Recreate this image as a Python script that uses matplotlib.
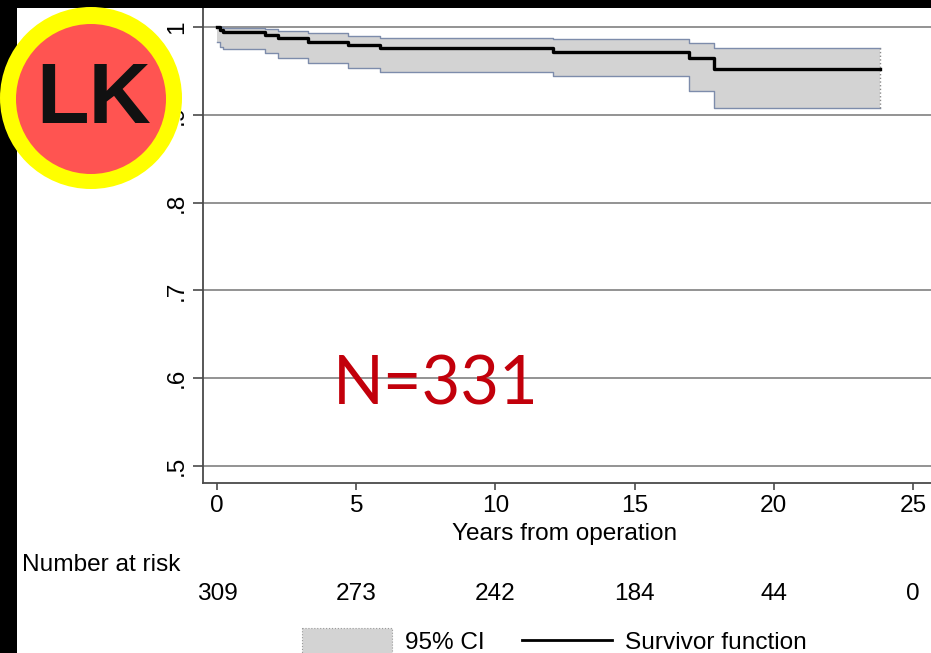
import matplotlib
matplotlib.use("Agg")
import matplotlib.pyplot as plt
from matplotlib.patches import Circle, Rectangle
from matplotlib.lines import Line2D
import matplotlib.transforms as mtransforms

# ---------------- data ----------------
times = [0, 0.1, 0.2, 1.72, 2.2, 3.28, 4.72, 5.86, 12.07, 16.97, 17.86, 23.8]
surv = [1.0, 0.997, 0.9946, 0.9909, 0.9871, 0.9833, 0.9795, 0.9757, 0.9712, 0.9644, 0.9522, 0.9522]
upper = [1.0, 1.0, 0.999, 0.998, 0.9958, 0.9928, 0.990, 0.9878, 0.986, 0.9814, 0.9757, 0.9757]
lower = [0.983, 0.977, 0.9746, 0.9707, 0.965, 0.9593, 0.9536, 0.949, 0.9442, 0.927, 0.9074, 0.9074]

x_ticks = [0, 5, 10, 15, 20, 25]
y_ticks = [0.5, 0.6, 0.7, 0.8, 0.9, 1.0]
y_tick_labels = [".5", ".6", ".7", ".8", ".9", "1"]
risk_times = [0, 5, 10, 15, 20, 25]
at_risk = [309, 273, 242, 184, 44, 0]

xlabel = "Years from operation"
risk_title = "Number at risk"
legend_ci = "95% CI"
legend_sf = "Survivor function"
annotation = "N=331"
logo_text = "LK"

# ---------------- figure ----------------
W, H = 931, 653
FS = 17.6
plt.rcParams['font.family'] = ['Liberation Sans', 'DejaVu Sans']
fig = plt.figure(figsize=(W / 100, H / 100), dpi=100)
fig.patch.set_facecolor('white')

ax_left, ax_bottom_px, ax_top_px = 203, 483, 0
ax = fig.add_axes([ax_left / W, (H - ax_bottom_px) / H, (W - ax_left) / W, (ax_bottom_px - ax_top_px) / H])
ax.set_xlim(-0.503, 25.65)
ax.set_ylim(0.4806, 1.0308)
ax.set_facecolor('white')

for y in y_ticks:
    ax.axhline(y, color='#939393', lw=1.4, zorder=1)

ax.fill_between(times, lower, upper, step='post', color='#d3d3d3', lw=0, zorder=2)
ax.step(times, upper, where='post', color='#7d8cab', lw=1.0, zorder=3)
ax.step(times, lower, where='post', color='#7d8cab', lw=1.0, zorder=3)
ax.vlines(times[-1], lower[-1], upper[-1], colors='#8a8a8a', linestyles=':', lw=1.0, zorder=3)
ax.step(times, surv, where='post', color='black', lw=2.4, zorder=4)

for s in ['top', 'right']:
    ax.spines[s].set_visible(False)
for s in ['left', 'bottom']:
    ax.spines[s].set_color('#4a4a4a')
    ax.spines[s].set_linewidth(1.3)

ax.set_xticks(x_ticks)
ax.set_xticklabels([str(v) for v in x_ticks])
ax.set_yticks(y_ticks)
ax.set_yticklabels(y_tick_labels)
ax.tick_params(axis='x', length=5, width=1.2, color='#4a4a4a', pad=4, labelsize=FS)
ax.tick_params(axis='y', length=7, width=1.2, color='#4a4a4a', pad=4, labelsize=FS, labelrotation=90)
for lab in ax.get_yticklabels():
    lab.set_va('center')

def fy(py):
    return 1 - py / H

fig.text(565 / W, fy(534), xlabel, ha='center', va='center', fontsize=FS)
fig.text(22 / W, fy(565), risk_title, ha='left', va='center', fontsize=FS)
blend = mtransforms.blended_transform_factory(ax.transData, fig.transFigure)
for t, n in zip(risk_times, at_risk):
    fig.text(t, fy(594), str(n), transform=blend, ha='center', va='center', fontsize=FS)

fig.text(436 / W, fy(386), annotation, ha='center', va='center', fontsize=48,
         color='#c2000b', family=['Lato', 'DejaVu Sans'])

# ---------------- overlay (legend, frame, logo) ----------------
ov = fig.add_axes([0, 0, 1, 1])
ov.set_xlim(0, W)
ov.set_ylim(H, 0)
ov.axis('off')
ov.set_zorder(10)

ov.add_patch(Rectangle((302, 628), 90, 40, facecolor='#d3d3d3', edgecolor='#9a9a9a', lw=0.8, ls=':'))
ov.text(405, 643, legend_ci, ha='left', va='center', fontsize=FS)
ov.add_line(Line2D([522, 612], [640, 640], color='black', lw=2.0))
ov.text(625, 643, legend_sf, ha='left', va='center', fontsize=FS)

ov.add_patch(Rectangle((0, 0), 17, H, facecolor='black', edgecolor='none'))
ov.add_patch(Rectangle((0, 0), W, 7.5, facecolor='black', edgecolor='none'))

ov.add_patch(Circle((91, 98), 91, facecolor='#ffff00', edgecolor='none'))
ov.add_patch(Circle((91, 99), 75, facecolor='#ff5451', edgecolor='none'))
ov.text(94, 101, logo_text, ha='center', va='center', fontsize=62, fontweight='bold', color='#111111')

fig.savefig('out.png', dpi=100)
